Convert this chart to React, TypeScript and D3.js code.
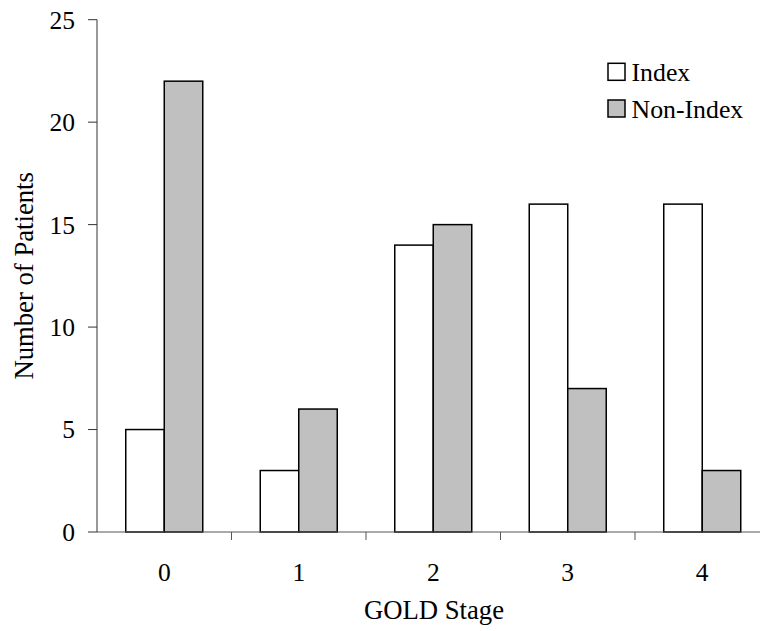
import React from "react";
import * as d3 from "d3";

const categories = ["0", "1", "2", "3", "4"];
const seriesNames = ["Index", "Non-Index"];
const indexValues = [5, 3, 14, 16, 16];
const nonIndexValues = [22, 6, 15, 7, 3];
const yTicks = [0, 5, 10, 15, 20, 25];

const W = 760;
const H = 631;
const FONT = "Liberation Serif, Times New Roman, Tinos, DejaVu Serif, serif";
const FILLS = ["#ffffff", "#c0c0c0"];

export default function App() {
  const left = 97;
  const right = 769.5;
  const top = 19.7;
  const bottom = 532;

  const x = d3
    .scaleBand<string>()
    .domain(categories)
    .range([left, right])
    .paddingInner(0.4275)
    .paddingOuter(0.2138);
  const xs = d3.scaleBand<string>().domain(seriesNames).range([0, x.bandwidth()]);
  const y = d3.scaleLinear().domain([0, 25]).range([bottom, top]);

  const series = [indexValues, nonIndexValues];
  const step = x.step();
  const boundaries = d3.range(1, categories.length + 1).map((i) => left + i * step);
  const tick = { fontFamily: FONT, fontSize: 25.5 } as React.CSSProperties;
  const title = { fontFamily: FONT, fontSize: 26.7 } as React.CSSProperties;
  const leg = { fontFamily: FONT, fontSize: 25.8 } as React.CSSProperties;

  return (
    <svg
      width={W}
      height={H}
      style={{ position: "absolute", left: 0, top: 0, background: "#fff" }}
    >
      {categories.map((c, i) =>
        series.map((vals, s) => (
          <rect
            key={c + s}
            x={(x(c) as number) + (xs(seriesNames[s]) as number)}
            y={y(vals[i])}
            width={xs.bandwidth()}
            height={bottom - y(vals[i])}
            fill={FILLS[s]}
            stroke="#000"
            strokeWidth={1.5}
          />
        ))
      )}
      <line x1={left} x2={left} y1={top} y2={bottom} stroke="#333" strokeWidth={1} />
      {yTicks.map((t) => (
        <g key={t}>
          <line x1={left - 9} x2={left} y1={y(t)} y2={y(t)} stroke="#333" strokeWidth={1} />
          <text x={75} y={y(t)} dy="0.35em" textAnchor="end" style={tick} fill="#000">
            {t}
          </text>
        </g>
      ))}
      <line x1={left} x2={right} y1={bottom} y2={bottom} stroke="#555" strokeWidth={1} />
      {boundaries.map((b, i) => (
        <line key={i} x1={b} x2={b} y1={bottom} y2={bottom + 8} stroke="#555" strokeWidth={1} />
      ))}
      {categories.map((c) => (
        <text
          key={c}
          x={(x(c) as number) + x.bandwidth() / 2}
          y={580.5}
          textAnchor="middle"
          style={tick}
          fill="#000"
        >
          {c}
        </text>
      ))}
      <text x={434} y={619} textAnchor="middle" style={title} fill="#000">
        GOLD Stage
      </text>
      <text
        transform={`translate(32.5, ${(top + bottom) / 2}) rotate(-90)`}
        textAnchor="middle"
        style={title}
        fill="#000"
      >
        Number of Patients
      </text>
      {seriesNames.map((n, i) => (
        <g key={n} transform={`translate(608, ${63.3 + i * 36.7})`}>
          <rect width={17} height={17} fill={FILLS[i]} stroke="#000" strokeWidth={1.5} />
          <text x={23.5} y={8.5} dy="0.35em" style={leg} fill="#000">
            {n}
          </text>
        </g>
      ))}
    </svg>
  );
}
